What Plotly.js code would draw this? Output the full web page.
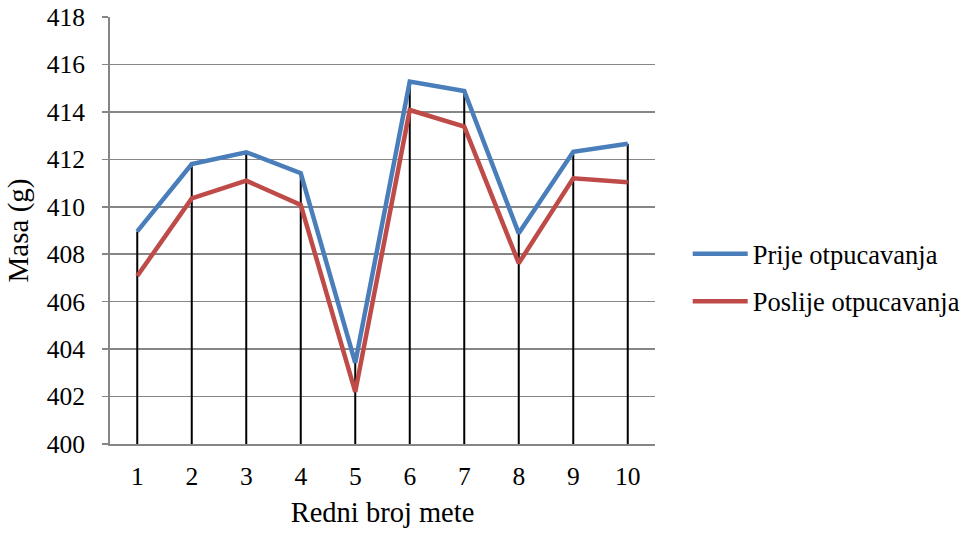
<!DOCTYPE html>
<html>
<head>
<meta charset="utf-8">
<script src="https://cdn.plot.ly/plotly-3.0.1.min.js"></script>
<style>html,body{margin:0;padding:0;background:#fff;}#chart{width:965px;height:535px;}</style>
</head>
<body>
<div id="chart"></div>
<script>
const categories = [1, 2, 3, 4, 5, 6, 7, 8, 9, 10];
const prije = [408.96, 411.8, 412.3, 411.42, 403.42, 415.28, 414.88, 408.88, 412.32, 412.66];
const poslije = [407.08, 410.35, 411.1, 410.08, 402.2, 414.08, 413.38, 407.62, 411.2, 411.03];
const seriesNames = ['Prije otpucavanja', 'Poslije otpucavanja'];
const yBase = 400;

const dropTrace = {
  x: categories,
  y: prije,
  type: 'scatter',
  mode: 'markers',
  marker: {size: 0.1, color: 'rgba(0,0,0,0)'},
  showlegend: false,
  hoverinfo: 'skip',
  error_y: {
    type: 'data',
    symmetric: false,
    array: prije.map(() => 0),
    arrayminus: prije.map(v => v - yBase),
    color: '#000000',
    thickness: 2,
    width: 0
  }
};

const t1 = {
  x: categories, y: prije, name: seriesNames[0], type: 'scatter', mode: 'lines',
  line: {color: '#4a7ebb', width: 4.5}, legendgroup: 'a'
};
const t2 = {
  x: categories, y: poslije, name: seriesNames[1], type: 'scatter', mode: 'lines',
  line: {color: '#be4b48', width: 4.5}, legendgroup: 'b'
};

const layout = {
  width: 965, height: 535,
  margin: {l: 110, r: 310, t: 17, b: 91, autoexpand: false},
  paper_bgcolor: '#ffffff', plot_bgcolor: '#ffffff',
  font: {family: 'Liberation Serif', size: 25, color: '#000000'},
  showlegend: true,
  legend: {
    x: 1.06, y: 0.39, xanchor: 'left', yanchor: 'middle',
    traceorder: 'grouped', tracegroupgap: 10, itemwidth: 55,
    font: {family: 'Liberation Serif', size: 26.5, color: '#000000'}
  },
  xaxis: {
    range: [0.5, 10.5],
    tickvals: categories,
    ticktext: categories.map(String),
    showgrid: false, zeroline: false,
    showline: true, linecolor: '#868686', linewidth: 2,
    ticks: '', ticklabelstandoff: 8,
    tickfont: {family: 'Liberation Serif', size: 25.5},
    title: {text: 'Redni broj mete', font: {family: 'Liberation Serif', size: 28.5}, standoff: 12}
  },
  yaxis: {
    range: [400, 418],
    dtick: 2, tick0: 400,
    showgrid: true, gridcolor: '#868686', gridwidth: 1.5,
    zeroline: false,
    showline: true, linecolor: '#868686', linewidth: 2,
    ticks: 'outside', ticklen: 6, tickcolor: '#868686', tickwidth: 1.5,
    ticklabelstandoff: 12,
    tickfont: {family: 'Liberation Serif', size: 25.5},
    title: {text: 'Masa (g)', font: {family: 'Liberation Serif', size: 29}, standoff: 10}
  }
};

Plotly.newPlot('chart', [dropTrace, t1, t2], layout, {displayModeBar: false, staticPlot: true});
</script>
</body>
</html>
